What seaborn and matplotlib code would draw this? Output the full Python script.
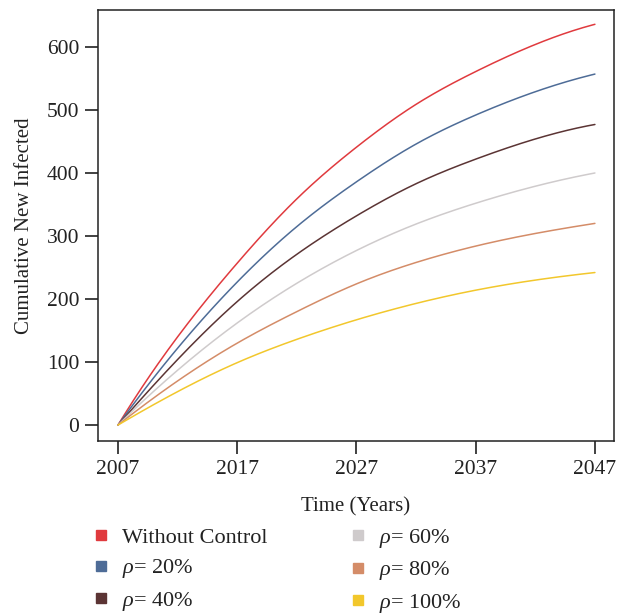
import numpy as np
import pandas as pd
import matplotlib
matplotlib.use("Agg")
import matplotlib.pyplot as plt
from matplotlib.lines import Line2D
import seaborn as sns
from scipy.interpolate import make_interp_spline

years = [2007, 2012, 2017, 2022, 2027, 2032, 2037, 2042, 2047]
without_control = [0, 140, 257, 359, 441, 509, 561, 604, 636]
rho20 = [0, 122, 227, 315, 386, 446, 492, 529, 557]
rho40 = [0, 104, 196, 271, 332, 383, 422, 454, 477]
rho60 = [0, 87, 162, 225, 277, 319, 352, 379, 400]
rho80 = [0, 70, 130, 180, 224, 258, 284, 304, 320]
rho100 = [0, 53, 99, 136, 167, 193, 214, 230, 242]

labels = ["Without Control", r"$\rho$= 20%", r"$\rho$= 40%",
          r"$\rho$= 60%", r"$\rho$= 80%", r"$\rho$= 100%"]
series = [without_control, rho20, rho40, rho60, rho80, rho100]
colors = ["#E03A3E", "#4E6C97", "#5B3434", "#CFCBCC", "#D48C68", "#F2C72C"]
xticks = [2007, 2017, 2027, 2037, 2047]
yticks = [0, 100, 200, 300, 400, 500, 600]

# smooth curves through the read points
smooth_rows = []
xs = np.linspace(years[0], years[-1], 240)
for lab, vals in zip(labels, series):
    f = make_interp_spline(years, vals, k=3)
    for x in xs:
        smooth_rows.append({"Year": x, "Value": float(f(x)), "Series": lab})
sdf = pd.DataFrame(smooth_rows)

sns.set_theme(style="white")
plt.rcParams['font.family'] = ['Liberation Serif', 'DejaVu Serif']
plt.rcParams['mathtext.fontset'] = 'custom'
plt.rcParams['mathtext.rm'] = 'Liberation Serif'
plt.rcParams['mathtext.it'] = 'Liberation Serif:italic'

fig = plt.figure(figsize=(6.26, 6.16), dpi=100)
ax = fig.add_axes([98/626, 1-441/616, (614-98)/626, (441-10)/616])

sns.lineplot(data=sdf, x="Year", y="Value", hue="Series", hue_order=labels,
             palette=colors, linewidth=1.1, ax=ax, legend=False)

ax.set_xlim(2005.32, 2048.6)
ax.set_ylim(-25.4, 658.7)
ax.set_xticks(xticks)
ax.set_yticks(yticks)
ax.tick_params(axis='both', direction='out', length=9.5, width=1.3,
               color='#333333', labelsize=15.5, labelcolor='#222222', pad=4,
               bottom=True, left=True)
for s in ax.spines.values():
    s.set_color('#222222')
    s.set_linewidth(1.1)
ax.set_xlabel("Time (Years)", fontsize=15, color='#222222', labelpad=13)
ax.set_ylabel("Cumulative New Infected", fontsize=15, color='#222222', labelpad=9)

handles = [Line2D([0], [0], marker='s', linestyle='none', markersize=7,
                  markerfacecolor=c, markeredgecolor=c) for c in colors]
fig.legend(handles, labels, ncol=2, loc='upper left',
           bbox_to_anchor=(79/626, 1-516/616), frameon=False, fontsize=16,
           borderpad=0, handlelength=1.0, handletextpad=0.45, columnspacing=3.55,
           labelspacing=0.42, labelcolor='#222222')

fig.savefig("out.png", dpi=100)
